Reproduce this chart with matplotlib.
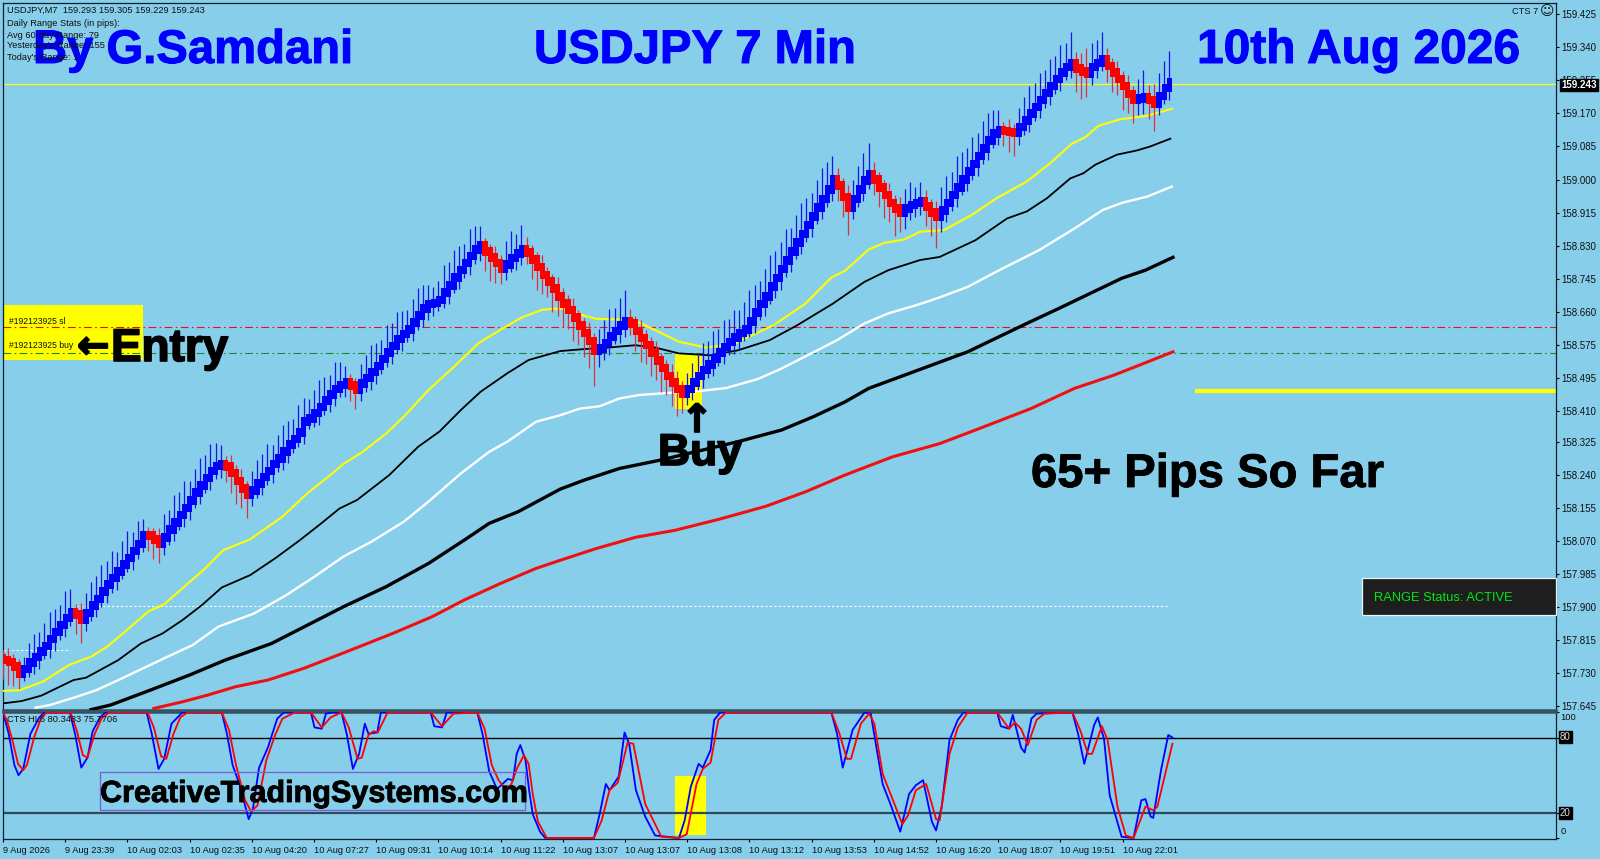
import matplotlib
matplotlib.use("Agg")
import matplotlib.pyplot as plt
import matplotlib.patheffects as pe
from matplotlib.patches import Rectangle

# Bar closes (JPY per USD)
bar_close = [
    157.765, 157.760, 157.748, 157.730, 157.742, 157.758, 157.772, 157.786, 157.800, 157.818,
    157.836, 157.855, 157.873, 157.888, 157.882, 157.868, 157.886, 157.905, 157.921, 157.940,
    157.958, 157.975, 157.992, 158.010, 158.027, 158.045, 158.063, 158.086, 158.085, 158.075,
    158.064, 158.080, 158.100, 158.118, 158.137, 158.155, 158.175, 158.195, 158.213, 158.232,
    158.250, 158.263, 158.268, 158.262, 158.245, 158.225, 158.205, 158.190, 158.200, 158.218,
    158.235, 158.250, 158.268, 158.283, 158.300, 158.318, 158.333, 158.350, 158.378, 158.385,
    158.400, 158.415, 158.432, 158.447, 158.462, 158.472, 158.480, 158.470, 158.460, 158.475,
    158.490, 158.505, 158.520, 158.538, 158.555, 158.572, 158.590, 158.603, 158.615, 158.632,
    158.650, 158.668, 158.680, 158.683, 158.690, 158.710, 158.728, 158.748, 158.768, 158.785,
    158.803, 158.820, 158.830, 158.815, 158.800, 158.785, 158.772, 158.782, 158.798, 158.810,
    158.822, 158.812, 158.795, 158.775, 158.755, 158.738, 158.720, 158.700, 158.682, 158.665,
    158.645, 158.625, 158.605, 158.585, 158.559, 158.565, 158.580, 158.597, 158.610, 158.625,
    158.636, 158.630, 158.610, 158.592, 158.575, 158.555, 158.535, 158.515, 158.495, 158.478,
    158.462, 158.449, 158.462, 158.478, 158.495, 158.510, 158.525, 158.540, 158.555, 158.570,
    158.582, 158.594, 158.605, 158.615, 158.635, 158.658, 158.680, 158.700, 158.725, 158.747,
    158.770, 158.792, 158.815, 158.838, 158.860, 158.883, 158.905, 158.928, 158.950, 158.975,
    159.000, 158.985, 158.955, 158.928, 158.950, 158.975, 158.997, 159.014, 159.000, 158.980,
    158.960, 158.940, 158.925, 158.914, 158.925, 158.935, 158.940, 158.943, 158.930, 158.915,
    158.904, 158.920, 158.940, 158.960, 158.980, 159.000, 159.020, 159.040, 159.060, 159.080,
    159.100, 159.118, 159.128, 159.125, 159.122, 159.120, 159.135, 159.152, 159.170, 159.187,
    159.205, 159.222, 159.240, 159.258, 159.275, 159.290, 159.299, 159.285, 159.278, 159.272,
    159.290, 159.300, 159.309, 159.292, 159.275, 159.258, 159.240, 159.220, 159.205, 159.208,
    159.212, 159.205, 159.195, 159.215, 159.235, 159.250,
]
first_open = 157.770

# Wick lengths beyond the body, in pips
wick_up = [
    2, 3, 2, 2, 3, 5, 6, 5, 6, 7,
    6, 5, 7, 6, 2, 3, 5, 6, 6, 7,
    6, 7, 5, 6, 7, 5, 6, 4, 2, 2,
    3, 6, 5, 7, 6, 7, 5, 6, 7, 6,
    7, 6, 5, 2, 3, 2, 3, 2, 5, 6,
    6, 7, 5, 6, 7, 6, 5, 7, 6, 5,
    6, 7, 6, 5, 7, 6, 4, 2, 2, 5,
    6, 7, 6, 5, 7, 6, 7, 6, 5, 6,
    7, 6, 5, 4, 5, 7, 6, 7, 6, 5,
    7, 6, 5, 2, 2, 3, 2, 6, 7, 5,
    6, 3, 2, 2, 3, 2, 2, 3, 2, 2,
    3, 2, 2, 3, 2, 5, 6, 7, 6, 7,
    8, 3, 2, 3, 2, 2, 3, 2, 2, 3,
    3, 2, 4, 5, 6, 7, 6, 7, 6, 7,
    6, 7, 6, 7, 8, 7, 6, 7, 8, 7,
    7, 8, 6, 7, 8, 7, 6, 7, 8, 7,
    6, 3, 2, 3, 5, 6, 7, 8, 3, 2,
    2, 3, 2, 3, 5, 6, 4, 5, 3, 2,
    3, 6, 7, 6, 8, 7, 6, 7, 6, 7,
    7, 6, 5, 2, 3, 2, 5, 6, 7, 6,
    7, 6, 7, 6, 7, 6, 8, 3, 4, 6,
    6, 6, 7, 3, 2, 3, 2, 3, 2, 5,
    7, 3, 4, 6, 7, 8,
]
wick_dn = [
    5, 6, 5, 4, 2, 2, 3, 3, 2, 3,
    3, 2, 3, 2, 5, 6, 3, 2, 3, 2,
    3, 2, 3, 2, 2, 3, 2, 2, 4, 5,
    5, 3, 2, 3, 2, 3, 3, 2, 3, 2,
    3, 2, 3, 4, 5, 6, 5, 6, 3, 2,
    3, 2, 3, 2, 3, 3, 2, 2, 3, 2,
    2, 3, 2, 3, 3, 2, 3, 4, 5, 3,
    2, 3, 3, 2, 2, 3, 2, 3, 2, 3,
    2, 3, 3, 3, 2, 2, 3, 2, 3, 2,
    3, 2, 3, 5, 6, 5, 4, 3, 2, 3,
    3, 3, 5, 6, 5, 4, 6, 5, 6, 5,
    6, 5, 6, 7, 9, 4, 3, 3, 2, 3,
    3, 3, 5, 6, 5, 6, 5, 6, 5, 6,
    7, 5, 3, 3, 2, 3, 2, 3, 2, 3,
    2, 3, 3, 2, 2, 3, 2, 3, 2, 3,
    3, 2, 3, 2, 3, 2, 3, 2, 3, 2,
    3, 4, 5, 7, 3, 2, 3, 2, 4, 5,
    6, 5, 7, 5, 4, 3, 3, 3, 5, 6,
    8, 4, 3, 2, 3, 2, 3, 2, 3, 2,
    3, 2, 3, 4, 5, 6, 3, 2, 3, 2,
    3, 2, 3, 2, 3, 2, 3, 6, 7, 6,
    3, 3, 2, 4, 5, 4, 6, 5, 6, 4,
    4, 5, 7, 3, 2, 3,
]

# Moving averages, (bar, price)
yellow_x = [0, 3.2, 7.7, 12.9, 17, 20.1, 23.5, 28, 31.1, 35.3, 39, 42.5, 47.7, 53.9, 58.7, 63.5, 65.6, 69.4, 73.9, 77.3, 82.1, 86.3, 91.8, 95.9, 100, 104,
            107.5, 110.5, 114.4, 118.9, 122, 125.8, 130.4, 135.7, 141.1, 148.7, 154.8, 159.8, 162.4, 167, 170, 173.9, 176.9, 181.5, 186.8,
            191.7, 197.5, 202, 206.2, 208.8, 211.3, 215.5, 220.7, 225.5]
yellow_y = [157.685, 157.687, 157.709, 157.753, 157.773, 157.799, 157.837, 157.889, 157.908, 157.957, 158.000, 158.047, 158.075, 158.133, 158.193, 158.244, 158.268, 158.300, 158.347, 158.390, 158.459, 158.510, 158.580, 158.613, 158.645, 158.665,
            158.669, 158.656, 158.642, 158.640, 158.637, 158.613, 158.583, 158.568, 158.578, 158.626, 158.681, 158.748, 158.765, 158.820, 158.837, 158.846, 158.866, 158.870, 158.908,
            158.952, 158.995, 159.042, 159.092, 159.109, 159.138, 159.155, 159.164, 159.182]
black_x = [0, 3.6, 7.4, 13.6, 16, 22.2, 26.6, 30.8, 34.6, 38.4, 42.2, 47.7, 52.5, 57.3, 61.4, 64.9, 68.3, 74.5, 80.1, 84.2, 88.3, 92.1, 97.3, 101.4, 107.5,
           112.1, 116.7, 122, 125.8, 130.4, 136.5, 141.8, 147.9, 153.3, 160.1, 166.2, 170.8, 176.9, 180.7, 187.6, 193.7,
           197.5, 201.4, 205.9, 208.4, 210.7, 214.9, 218.8, 221.3, 225.2]
black_y = [157.653, 157.659, 157.673, 157.713, 157.719, 157.764, 157.807, 157.833, 157.867, 157.906, 157.951, 157.983, 158.026, 158.073, 158.116, 158.154, 158.176, 158.240, 158.313, 158.352, 158.407, 158.454, 158.502, 158.536, 158.559,
           158.564, 158.568, 158.574, 158.568, 158.553, 158.548, 158.561, 158.587, 158.626, 158.681, 158.737, 158.767, 158.793, 158.801, 158.844, 158.900,
           158.918, 158.952, 159.003, 159.016, 159.038, 159.064, 159.075, 159.085, 159.105]
white_x = [6.3, 9.1, 14.2, 18, 22.9, 31.1, 36.6, 41.5, 48.4, 54.6, 60.1, 65.6, 71.1, 77.3, 82.1, 88.3, 93.8, 97.3, 102.8, 107.5,
           111.3, 115.1, 118.9, 122.8, 128.9, 135, 139.5, 145.6, 150.2, 157.1, 160.9, 166.2, 170.8, 176.2, 180.7, 186.1, 192.2, 199.8, 206.7,
           212.2, 216.1, 220.7, 225.5]
white_y = [157.642, 157.649, 157.670, 157.687, 157.717, 157.769, 157.803, 157.850, 157.884, 157.931, 157.979, 158.030, 158.069, 158.120, 158.172, 158.244, 158.300, 158.326, 158.377, 158.394,
           158.411, 158.417, 158.437, 158.446, 158.452, 158.457, 158.464, 158.487, 158.514, 158.561, 158.587, 158.630, 158.656, 158.677, 158.697, 158.724, 158.767, 158.818, 158.874,
           158.922, 158.941, 158.956, 158.982]
thick_x = [17, 20.8, 28.4, 36, 42.8, 51.8, 58.7, 65.6, 73.9, 82.1, 89, 93.8, 99.4, 107.5,
           112.1, 118.9, 126.6, 141.8, 150.2, 156.3, 162.4, 167, 173.1, 180, 186.1, 191.4, 197.5, 203.6, 209.7, 215.8, 220.4, 225.7]
thick_y = [157.637, 157.649, 157.687, 157.726, 157.764, 157.807, 157.854, 157.901, 157.953, 158.013, 158.073, 158.116, 158.146, 158.204,
           158.227, 158.257, 158.278, 158.326, 158.356, 158.390, 158.428, 158.463, 158.493, 158.527, 158.557, 158.591, 158.630, 158.668, 158.707, 158.746, 158.767, 158.800]
red_x = [29.1, 34.6, 39.4, 44.9, 51.1, 58, 66.3, 75.2, 82.8, 89, 95.9, 102.8, 107.5,
         114.4, 122, 129.6, 138, 147.2, 154.8, 162.4, 171.6, 180.7, 188.4, 198.3, 206.7, 214.3, 220.4, 225.7]
red_y = [157.640, 157.657, 157.674, 157.696, 157.713, 157.743, 157.786, 157.833, 157.876, 157.919, 157.961, 158.000, 158.021,
         158.051, 158.080, 158.098, 158.126, 158.160, 158.197, 158.240, 158.287, 158.321, 158.360, 158.411, 158.463, 158.497, 158.529, 158.557]

# Oscillator lines in the lower panel
k_x = [0, 1.1, 2.2, 3, 3.9, 5.3, 7, 8, 12.9, 13.9, 15.1, 16.3, 17.3, 18.7, 19.8, 27.7, 28.7, 30, 31.1, 32.5, 34.6, 42.2, 43.2, 44.3, 45.6, 47.4, 48.2, 49.4, 51.1, 52.9, 54.2, 59.4, 60.1, 61.5, 62.3, 63.6, 65.3, 66.3, 67.5, 68.7, 69.8, 70.5, 72.2, 72.9, 82.5, 83.2, 84.7, 85.6, 91.5, 92.5, 93.8, 95.3, 97.4, 98.4, 99.1, 99.8, 100.8, 101.5, 102.2, 103.6, 104.6,
       114, 115.1, 116.3, 117, 118.8, 119.9, 120.8, 122.1, 123.9, 125.8, 130.4, 131.5, 132.7, 134.2, 135, 136.5, 137.2, 138.4, 159.8, 160.9, 162, 163.9, 166.2, 167.4, 168.5, 169.7, 171.2, 173.1, 174.8, 176.1, 177.5, 179.2, 180, 181.1, 182.6, 184.2, 185.3, 191.8, 192.5, 194.1, 194.8, 196.4, 197.1, 198.4, 199.4, 206.3, 207.4, 208.6, 210.5, 211.2, 212.4, 213.5, 215.8, 218.1, 219.6, 220.4, 221.4, 221.9, 223.4, 224.8, 225.6]
k_y = [100, 83, 58, 50, 55, 83, 96, 100, 100, 83, 56, 64, 85, 96, 100, 100, 83, 55, 63, 91, 100, 100, 83, 58, 43, 15, 23, 56, 72, 95, 100, 100, 88, 87, 99, 100, 100, 83, 55, 67, 91, 83, 84, 100, 100, 89, 88, 100, 100, 83, 53, 39, 47, 46, 67, 74, 62, 38, 19, 5, 0,
       0, 19, 43, 38, 49, 84, 75, 38, 17, 2, 0, 14, 41, 59, 56, 70, 94, 100, 100, 83, 56, 86, 100, 99, 72, 43, 27, 5, 35, 42, 46, 13, 6, 25, 78, 94, 100, 100, 89, 87, 98, 72, 68, 95, 99, 100, 83, 59, 90, 96, 79, 34, 1, 0, 30, 31, 17, 16, 54, 82, 80]
d_x = [0, 0.8, 1.8, 2.9, 3.9, 4.6, 6, 7.3, 8.4, 13, 14.2, 15.4, 16.3, 17.7, 19, 20.5, 27.9, 29.1, 30.5, 31.5, 32.9, 34.2, 35.6, 42.2, 43.6, 44.9, 46.7, 47.9, 49.1, 50.8, 52.5, 53.9, 56.3, 59.4, 61.5, 63.2, 65.3, 66.7, 68.4, 69.2, 70.5, 71.5, 72.3, 74.2, 82.5, 84.7, 86.9, 91.5, 92.9, 94.3, 95.6, 96.7, 98, 99.1, 100.5, 101.4, 102.2, 103.2, 104.9,
       114, 115.5, 117, 118.6, 120.5, 121.6, 123.9, 127, 130.4, 131.9, 133.8, 135, 136.5, 138, 139.5, 159.8, 161.3, 162.8, 163.6, 165.5, 167.1, 168.1, 169.7, 173.5, 174.6, 176.1, 178.1, 180, 180.7, 182.6, 184.2, 186.1, 191.8, 194.1, 195.2, 196.4, 197.7, 199.4, 200.9, 206.3, 207.8, 209.3, 210.1, 212, 213.1, 215, 216.6, 218.1, 220.4, 221.9, 222.7, 225.6]
d_y = [100, 93, 78, 59, 54, 58, 80, 95, 100, 100, 86, 66, 64, 83, 95, 100, 100, 88, 65, 63, 83, 96, 100, 100, 86, 59, 30, 21, 26, 62, 82, 95, 100, 100, 88, 96, 100, 88, 63, 64, 82, 85, 84, 100, 100, 89, 99, 100, 87, 58, 46, 40, 42, 55, 66, 59, 35, 13, 0,
       0, 14, 38, 44, 76, 75, 27, 1, 0, 3, 43, 55, 60, 94, 100, 100, 84, 63, 63, 91, 99, 91, 51, 11, 18, 38, 43, 15, 14, 67, 88, 100, 100, 87, 92, 87, 74, 94, 99, 100, 86, 67, 67, 89, 78, 25, 2, 0, 25, 22, 25, 75]

# Axis labels
price_ticks = [159.425, 159.340, 159.255, 159.170, 159.085, 159.000, 158.915, 158.830, 158.745, 158.660, 158.575,
               158.490, 158.405, 158.325, 158.240, 158.155, 158.070, 157.985, 157.900, 157.815, 157.730, 157.645]
price_labels = ['159.425', '159.340', '159.255', '159.170', '159.085', '159.000', '158.915', '158.830', '158.745', '158.660', '158.575',
                '158.495', '158.410', '158.325', '158.240', '158.155', '158.070', '157.985', '157.900', '157.815', '157.730', '157.645']
time_ticks = [0, 12, 24, 36, 48, 60, 72, 84, 96, 108, 120, 132, 144, 156, 168, 180, 192, 204, 216]
time_labels = ['9 Aug 2026', '9 Aug 23:39', '10 Aug 02:03', '10 Aug 02:35', '10 Aug 04:20', '10 Aug 07:27', '10 Aug 09:31',
               '10 Aug 10:14', '10 Aug 11:22', '10 Aug 13:07', '10 Aug 13:07', '10 Aug 13:08', '10 Aug 13:12', '10 Aug 13:53',
               '10 Aug 14:52', '10 Aug 16:20', '10 Aug 18:07', '10 Aug 19:51', '10 Aug 22:01']

# Levels
last_price = 159.245
stop_level = 158.620
entry_level = 158.555
target_level = 158.457
dotted_upper = 157.904
dotted_lower = 157.790

W, H = 1600, 859
BG = '#87CEEB'
plt.rcParams['font.family'] = ['Liberation Sans', 'DejaVu Sans']

fig = plt.figure(figsize=(W / 100, H / 100), dpi=100, facecolor=BG)
ax = fig.add_axes([3 / W, 1 - 710 / H, 1553 / W, 707 / H], facecolor=BG)
ax2 = fig.add_axes([3 / W, 1 - 839 / H, 1553 / W, 127 / H], facecolor=BG)


def px(x, y, s, **kw):
    # text placed by pixel position of the whole picture
    kw.setdefault('va', 'center')
    return fig.text(x / W, 1 - y / H, s, **kw)


bars = list(range(len(bar_close)))
bar_open = [first_open] + bar_close[:-1]
bar_up = [c >= o for o, c in zip(bar_open, bar_close)]
body_lo = [min(o, c) for o, c in zip(bar_open, bar_close)]
body_hi = [max(o, c) for o, c in zip(bar_open, bar_close)]

ax.set_xlim(0, 299.6)
ax.set_ylim(157.636, 159.454)
ax2.set_xlim(0, 299.6)
ax2.set_ylim(-0.8, 100.3)

# yellow boxes behind everything
ax.add_patch(Rectangle((0, 158.536), 27, 0.141, color='#ffff00', lw=0, zorder=1))
ax.add_patch(Rectangle((129.7, 158.410), 5.2, 0.141, color='#ffff00', lw=0, zorder=1))
ax2.add_patch(Rectangle((129.6, 2), 6, 47, color='#ffff00', lw=0, zorder=1))

# levels
ax.axhline(last_price, color='#ffff00', lw=0.9, zorder=2)
ax.axhline(stop_level, color='#e81010', lw=0.8, ls=(0, (7, 3, 1.5, 3)), zorder=2)
ax.axhline(entry_level, color='#1a8a2a', lw=0.8, ls=(0, (7, 3, 1.5, 3)), zorder=2)
ax.hlines(dotted_upper, 14, 225, color='white', lw=0.8, ls=(0, (2, 2)), zorder=2)
ax.hlines(dotted_lower, 0, 13, color='white', lw=0.8, ls=(0, (2, 2)), zorder=2)
ax.hlines(target_level, 230, 299.6, color='#ffff00', lw=3, zorder=2)

# moving averages
ax.plot(yellow_x, yellow_y, color='#ffff00', lw=1.5, zorder=3)
ax.plot(black_x, black_y, color='black', lw=1.3, zorder=3)
ax.plot(white_x, white_y, color='white', lw=1.7, zorder=3)
ax.plot(thick_x, thick_y, color='black', lw=2.4, zorder=3)
ax.plot(red_x, red_y, color='#f01010', lw=2.2, zorder=3)

# candles: thin wicks first, the blocky bodies above them
for i in bars:
    top = body_hi[i] + wick_up[i] * 0.01
    bottom = body_lo[i] - wick_dn[i] * 0.01
    ax.vlines(i, bottom, top, color='#1414f0' if bar_up[i] else '#dc3040', lw=0.9, zorder=4)
ax.bar(bars, [h - l + 0.022 for h, l in zip(body_hi, body_lo)], width=1.0,
       bottom=[l - 0.011 for l in body_lo],
       color=['#0000ff' if u else '#ff0000' for u in bar_up], lw=0, zorder=5)

# oscillator
ax2.axhline(80, color='black', lw=1, zorder=2)
ax2.axhline(20, color='#2f4a58', lw=1.6, zorder=2)
ax2.plot(k_x, k_y, color='#0000ff', lw=1.3, zorder=3)
ax2.plot(d_x, d_y, color='#ff0000', lw=1.3, zorder=4)

# axes frames and ticks
for a in (ax, ax2):
    for side in ('left', 'right', 'top', 'bottom'):
        a.spines[side].set_linewidth(0.9)
        a.spines[side].set_color('#10202a')
    a.yaxis.tick_right()
ax.spines['bottom'].set_color('#37505f')
ax.spines['bottom'].set_linewidth(1.8)
ax2.spines['top'].set_color('#37505f')
ax2.spines['top'].set_linewidth(1.8)

ax.set_xticks([])
ax.set_yticks(price_ticks)
ax.set_yticklabels(price_labels)
ax.tick_params(axis='y', length=2.5, width=0.8, pad=1.5, labelsize=7, labelcolor='#101010')

ax2.set_yticks([0, 20, 80, 100])
ax2.set_yticklabels([])
ax2.set_xticks(time_ticks)
ax2.set_xticklabels(time_labels, ha='left')
ax2.tick_params(axis='y', length=2, width=0.8)
ax2.tick_params(axis='x', length=2.5, width=0.8, pad=2.5, labelsize=6.7, labelcolor='#101010')

# big captions
blue_edge = [pe.withStroke(linewidth=0.7, foreground='#0000ff')]
head = dict(fontweight='bold', color='#0000ff', fontsize=34, va='baseline', path_effects=blue_edge, zorder=6)
px(33, 63, 'By G.Samdani', **head)
px(534, 63, 'USDJPY 7 Min', **head)
px(1197, 63, '10th Aug 2026', fontweight='bold', color='#0000ff', fontsize=34.5, va='baseline', path_effects=blue_edge, zorder=6)

heavy = [pe.withStroke(linewidth=1.2, foreground='black')]
thin = [pe.withStroke(linewidth=0.6, foreground='black')]
px(1031, 487, '65+ Pips So Far', fontweight='bold', fontsize=34, color='black', va='baseline', path_effects=thin, zorder=6)
px(658, 465, 'Buy', fontweight='bold', fontsize=32, color='black', va='baseline', path_effects=heavy, zorder=6)
px(697, 421, '↑', fontweight='bold', fontsize=28, color='black', ha='center', family=['DejaVu Sans'], path_effects=heavy, zorder=6)
px(77, 347, '←', fontweight='bold', fontsize=28, color='black', family=['DejaVu Sans'], path_effects=heavy, zorder=6)
px(111, 361, 'Entry', fontweight='bold', fontsize=33, color='black', va='baseline', path_effects=heavy, zorder=6)

# small chart texts
small = dict(fontsize=6.7, color='#101010', zorder=8)
px(7, 10, 'USDJPY,M7  159.293 159.305 159.229 159.243', **small)
px(7, 23, 'Daily Range Stats (in pips):', **small)
px(7, 35, 'Avg 60-day Range: 79', **small)
px(7, 46, "Yesterday's Range: 155", **small)
px(7, 58, "Today's Range: 1", **small)
px(1512, 11, 'CTS 7', **small)
px(1540, 11, '☺', fontsize=10, color='#101010', family=['DejaVu Sans'], zorder=8)
px(7, 720, 'CTS HL6 80.3483 75.7706', **small)
px(9, 321, '#192123925 sl', fontsize=6.2, color='#101010', zorder=8)
px(9, 346, '#192123925 buy', fontsize=6.2, color='#101010', zorder=8)
px(1560, 718, '100', **small)
px(1561, 832, '0', **small)

tag = dict(boxstyle='square,pad=0.12', fc='black', ec='black')
px(1561, 85, '159.243', fontsize=7, color='white', fontweight='bold', bbox=tag, zorder=9)
px(1560, 737, '80', fontsize=7, color='#dddddd', bbox=tag, zorder=9)
px(1560, 813, '20', fontsize=7, color='#dddddd', bbox=tag, zorder=9)

# status panel
fig.add_artist(Rectangle((1362 / W, 1 - 615 / H), 194 / W, 37 / H, transform=fig.transFigure,
                         fc='#1e1e1e', ec='#e8f4fa', lw=0.9, zorder=7))
px(1374, 598, 'RANGE Status: ACTIVE', fontsize=9.3, color='#00e810', zorder=8)

# site label
fig.add_artist(Rectangle((100 / W, 1 - 810 / H), 425 / W, 38 / H, transform=fig.transFigure,
                         fc='none', ec='#7a5cd8', lw=0.9, zorder=7))
px(100, 802, 'CreativeTradingSystems.com', fontweight='bold', fontsize=22, color='black', va='baseline', path_effects=thin, zorder=8)

fig.savefig('out.png', dpi=100, facecolor=BG)
